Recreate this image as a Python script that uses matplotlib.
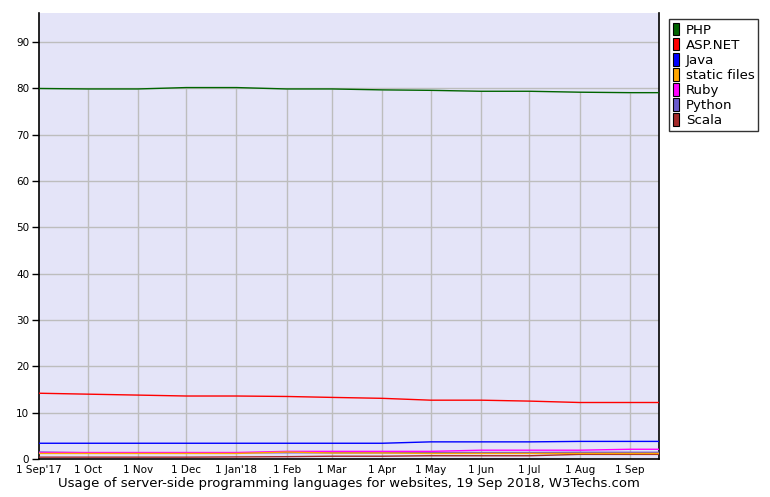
import datetime as dt
import numpy as np
import matplotlib
matplotlib.use('Agg')
import matplotlib.pyplot as plt
import matplotlib.dates as mdates
from matplotlib.patches import Patch

# monthly samples, 1 Sep 2017 .. 1 Sep 2018, plus 19 Sep 2018
dates = [dt.date(2017, 9, 1), dt.date(2017, 10, 1), dt.date(2017, 11, 1), dt.date(2017, 12, 1),
         dt.date(2018, 1, 1), dt.date(2018, 2, 1), dt.date(2018, 3, 1), dt.date(2018, 4, 1),
         dt.date(2018, 5, 1), dt.date(2018, 6, 1), dt.date(2018, 7, 1), dt.date(2018, 8, 1),
         dt.date(2018, 9, 1), dt.date(2018, 9, 19)]

php = [80.0, 79.9, 79.9, 80.2, 80.2, 79.9, 79.9, 79.7, 79.6, 79.4, 79.4, 79.2, 79.1, 79.1]
aspnet = [14.2, 14.0, 13.8, 13.6, 13.6, 13.5, 13.3, 13.1, 12.7, 12.7, 12.5, 12.2, 12.2, 12.2]
java = [3.4, 3.4, 3.4, 3.4, 3.4, 3.4, 3.4, 3.4, 3.7, 3.7, 3.7, 3.8, 3.8, 3.8]
static_files = [1.2, 1.2, 1.2, 1.2, 1.2, 1.5, 1.3, 1.3, 1.2, 1.2, 1.2, 1.2, 1.2, 1.2]
ruby = [1.4, 1.4, 1.4, 1.4, 1.4, 1.65, 1.65, 1.65, 1.65, 1.9, 1.9, 1.9, 2.1, 2.1]
python = [1.5, 1.35, 1.35, 1.35, 1.35, 1.35, 1.35, 1.35, 1.4, 1.4, 1.4, 1.45, 1.45, 1.45]
scala = [0.4, 0.4, 0.4, 0.4, 0.45, 0.5, 0.6, 0.6, 0.7, 0.7, 0.7, 1.0, 1.0, 1.0]

names = ['PHP', 'ASP.NET', 'Java', 'static files', 'Ruby', 'Python', 'Scala']
series = [php, aspnet, java, static_files, ruby, python, scala]
colors = ['#006400', '#ff0000', '#0000ff', '#ffa500', '#ff00ff', '#6a5acd', '#a52a2a']

tick_dates = dates[:13]
tick_labels = ["1 Sep'17", '1 Oct', '1 Nov', '1 Dec', "1 Jan'18", '1 Feb', '1 Mar',
               '1 Apr', '1 May', '1 Jun', '1 Jul', '1 Aug', '1 Sep']
y_ticks = [0, 10, 20, 30, 40, 50, 60, 70, 80, 90]

plt.rcParams['font.family'] = ['DejaVu Sans']
fig = plt.figure(figsize=(7.7, 4.97), dpi=100)
ax = fig.add_axes([39 / 770, 38 / 497, 620 / 770, 446 / 497])
ax.set_facecolor('#e4e4f8')

x = mdates.date2num(dates)
xt = mdates.date2num(tick_dates)

# horizontal grid over full width, vertical grid only up to the top series
for yv in y_ticks[1:]:
    ax.axhline(yv, color='#bdbdbd', lw=1, zorder=1)
ax.vlines(xt[1:], 0, np.interp(xt[1:], x, php), color='#bdbdbd', lw=1, zorder=1)

for name, vals, c in reversed(list(zip(names, series, colors))):
    ax.plot(x, vals, color=c, lw=1, zorder=3)

ax.set_xlim(x[0], x[-1])
ax.set_ylim(0, 96.3)
ax.set_xticks(xt)
ax.set_xticklabels(tick_labels, fontsize=7.5)
ax.set_yticks(y_ticks)
ax.set_yticklabels([str(v) for v in y_ticks], fontsize=7.5)
ax.tick_params(axis='x', length=0, pad=4)
ax.tick_params(axis='y', length=5, width=1, direction='out', pad=2)

ax.spines['top'].set_visible(False)
for s in ['left', 'right', 'bottom']:
    ax.spines[s].set_color('black')
    ax.spines[s].set_linewidth(1.2)

handles = [Patch(facecolor=c, edgecolor='black', lw=0.8) for c in colors]
leg = fig.legend(handles, names, loc='upper left', bbox_to_anchor=(669 / 770, 1 - 19 / 497),
                 fontsize=9.6, frameon=True, fancybox=False, edgecolor='black',
                 handlelength=0.45, handleheight=1.05, handletextpad=0.5,
                 labelspacing=0.1, borderpad=0.3, borderaxespad=0)
leg.get_frame().set_linewidth(1)

fig.text(349 / 770, 1 - 484 / 497,
         'Usage of server-side programming languages for websites, 19 Sep 2018, W3Techs.com',
         ha='center', va='center', fontsize=9.5)

fig.savefig('out.png', dpi=100)
